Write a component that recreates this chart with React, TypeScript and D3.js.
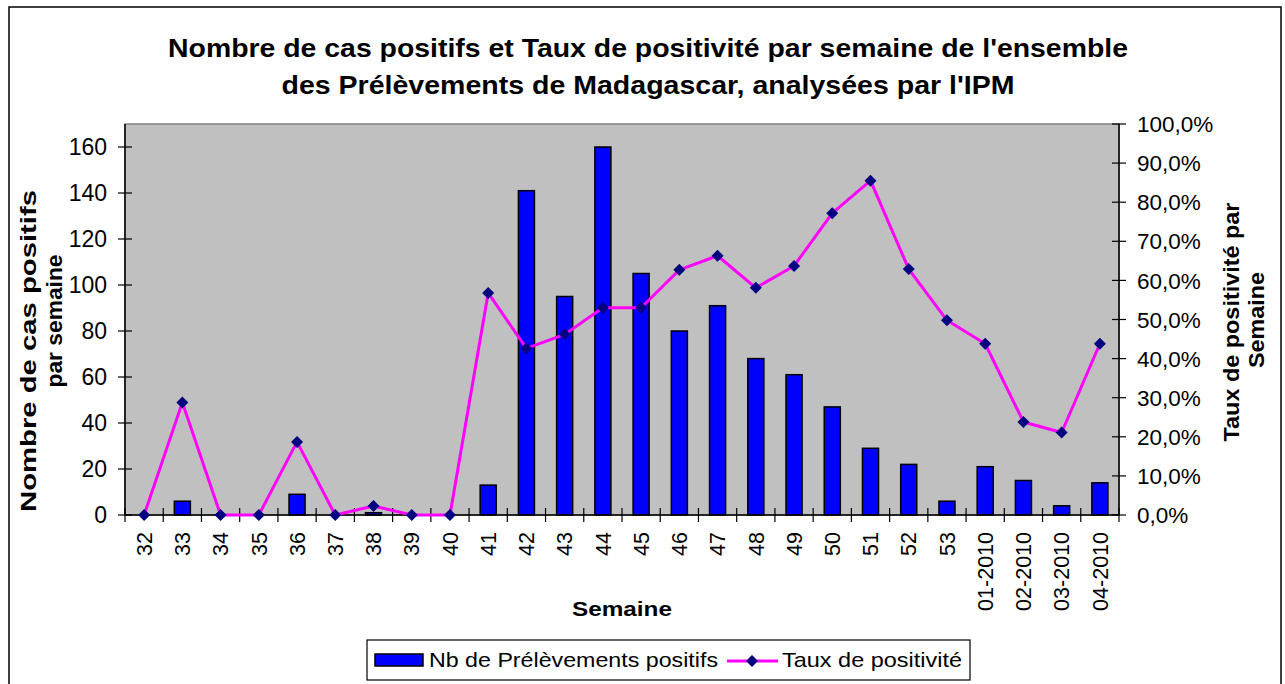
import React from "react";
import * as d3 from "d3";

const weeks = ["32","33","34","35","36","37","38","39","40","41","42","43","44","45","46","47","48","49","50","51","52","53","01-2010","02-2010","03-2010","04-2010"];
const positives = [0,6,0,0,9,0,1,0,0,13,141,95,160,105,80,91,68,61,47,29,22,6,21,15,4,14];
const rates = [0,28.8,0,0,18.7,0,2.3,0,0,56.8,42.6,46.2,53.0,53.0,62.7,66.3,58.1,63.7,77.2,85.5,62.9,49.8,43.8,23.8,21.1,43.8];
const leftTicks = [0,20,40,60,80,100,120,140,160];
const rightTicks = [0,0.1,0.2,0.3,0.4,0.5,0.6,0.7,0.8,0.9,1.0];
const titleLines = ["Nombre de cas positifs et Taux de positivité par semaine de l'ensemble", "des Prélèvements de Madagascar, analysées par l'IPM"];
const leftTitle = ["Nombre de cas positifs", "par semaine"];
const rightTitle = ["Taux de positivité par", "Semaine"];
const xTitle = "Semaine";
const legendBar = "Nb de Prélèvements positifs";
const legendLine = "Taux de positivité";

const FONT = "'Liberation Sans', Arial, Helvetica, sans-serif";

export default function App() {
  const L = 125, R = 1119, T = 124, B = 515;
  const x = d3.scaleBand<string>().domain(weeks).range([L, R]).padding(0);
  const yL = d3.scaleLinear().domain([0, 170]).range([B, T]);
  const yR = d3.scaleLinear().domain([0, 1]).range([B, T]);
  const bw = x.bandwidth() * 0.42;
  const cx = (w: string) => (x(w) as number) + x.bandwidth() / 2;
  const line = d3.line<number>().x((_, i) => cx(weeks[i])).y((v) => yR(v / 100));
  const fmtPct = (v: number) => (v * 100).toFixed(1).replace(".", ",") + "%";
  const diamond = (px: number, py: number, r: number) => `M${px},${py - r}L${px + r},${py}L${px},${py + r}L${px - r},${py}Z`;
  const bounds = weeks.map((w) => x(w) as number).concat([R]);

  return (
    <div style={{ position: "absolute", left: 0, top: 0 }}>
      <svg width={1285} height={684} style={{ display: "block", background: "#fff" }} fontFamily={FONT}>
        <rect x={9} y={7} width={1272} height={700} fill="#fff" stroke="#000" strokeWidth={1.5} />
        {/* title */}
        <text x={648} y={57} textAnchor="middle" fontSize={25} fontWeight="bold" textLength={960} lengthAdjust="spacingAndGlyphs">{titleLines[0]}</text>
        <text x={648} y={94} textAnchor="middle" fontSize={25} fontWeight="bold" textLength={733} lengthAdjust="spacingAndGlyphs">{titleLines[1]}</text>
        {/* plot area */}
        <rect x={L} y={T} width={R - L} height={B - T} fill="#C0C0C0" stroke="#808080" strokeWidth={1.5} />
        {/* bars */}
        {positives.map((v, i) => (
          <rect key={"b" + i} x={cx(weeks[i]) - bw / 2} y={yL(v)} width={bw} height={B - yL(v)} fill="#0000FF" stroke="#000" strokeWidth={1.5} style={{ display: v > 0 ? undefined : "none" }} />
        ))}
        {/* axes */}
        <line x1={L} y1={T} x2={L} y2={B} stroke="#000" strokeWidth={1.5} />
        <line x1={R} y1={T} x2={R} y2={B} stroke="#000" strokeWidth={1.5} />
        <line x1={L} y1={B} x2={R} y2={B} stroke="#000" strokeWidth={1.5} />
        {leftTicks.map((t) => (
          <g key={"lt" + t}>
            <line x1={L - 7} x2={L + 7} y1={yL(t)} y2={yL(t)} stroke="#000" strokeWidth={1.2} />
            <text x={107} y={yL(t)} dy="0.36em" textAnchor="end" fontSize={23}>{t}</text>
          </g>
        ))}
        {rightTicks.map((t) => (
          <g key={"rt" + t}>
            <line x1={R - 7} x2={R + 7} y1={yR(t)} y2={yR(t)} stroke="#000" strokeWidth={1.2} />
            <text x={1137} y={yR(t)} dy="0.36em" textAnchor="start" fontSize={22.5}>{fmtPct(t)}</text>
          </g>
        ))}
        {bounds.map((b, i) => (
          <line key={"xt" + i} x1={b} x2={b} y1={B - 7} y2={B + 7} stroke="#000" strokeWidth={1.2} />
        ))}
        {weeks.map((w) => (
          <text key={"xl" + w} transform={`translate(${cx(w)},532) rotate(-90)`} dy="0.36em" textAnchor="end" fontSize={21.5}>{w}</text>
        ))}
        {/* line series */}
        <path d={line(rates) || ""} fill="none" stroke="#FF00FF" strokeWidth={3} strokeLinejoin="round" />
        {rates.map((v, i) => (
          <path key={"m" + i} d={diamond(cx(weeks[i]), yR(v / 100), 6)} fill="#000080" />
        ))}
        {/* axis titles */}
        <text transform="translate(36,351) rotate(-90)" textAnchor="middle" fontSize={22} fontWeight="bold" textLength={322} lengthAdjust="spacingAndGlyphs">{leftTitle[0]}</text>
        <text transform="translate(62,321) rotate(-90)" textAnchor="middle" fontSize={22} fontWeight="bold" textLength={133} lengthAdjust="spacingAndGlyphs">{leftTitle[1]}</text>
        <text transform="translate(1239,322) rotate(-90)" textAnchor="middle" fontSize={22} fontWeight="bold" textLength={239} lengthAdjust="spacingAndGlyphs">{rightTitle[0]}</text>
        <text transform="translate(1264,320) rotate(-90)" textAnchor="middle" fontSize={22} fontWeight="bold" textLength={96} lengthAdjust="spacingAndGlyphs">{rightTitle[1]}</text>
        <text x={622} y={616} textAnchor="middle" fontSize={21} fontWeight="bold" textLength={100} lengthAdjust="spacingAndGlyphs">{xTitle}</text>
        {/* legend */}
        <rect x={367} y={640} width={603} height={40} fill="#fff" stroke="#000" strokeWidth={1.2} />
        <rect x={375} y={654} width={48} height={12} fill="#0000FF" stroke="#000" strokeWidth={1.5} />
        <text x={429} y={667} fontSize={21} textLength={289} lengthAdjust="spacingAndGlyphs">{legendBar}</text>
        <line x1={727} x2={778} y1={661} y2={661} stroke="#FF00FF" strokeWidth={3} />
        <path d={diamond(752, 661, 6)} fill="#000080" />
        <text x={782} y={667} fontSize={21} textLength={180} lengthAdjust="spacingAndGlyphs">{legendLine}</text>
      </svg>
    </div>
  );
}
